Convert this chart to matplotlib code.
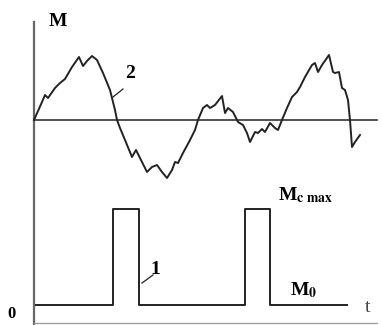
import matplotlib
matplotlib.use("Agg")
import matplotlib.pyplot as plt

plt.rcParams['font.family'] = ['Liberation Serif', 'DejaVu Serif']
plt.rcParams['mathtext.fontset'] = 'stix'

# curve 2: load torque fluctuating around mean level
t_curve = [0, 8, 11, 14, 21, 26, 31, 38, 45, 49, 53, 58, 63, 69, 76, 81, 83, 86,
           91, 98, 102, 106, 113, 118, 123, 128, 133, 138, 141, 144, 149, 156,
           161, 164, 169, 173, 176, 181, 188, 191, 194, 199, 204, 209, 213, 216,
           221, 224, 228, 231, 236, 241, 244, 248, 253, 258, 263, 266, 271, 278,
           281, 284, 288, 295, 299, 301, 305, 308, 311, 314, 316, 318, 321, 326]
m_curve = [203, 221, 228, 225, 235, 240, 244, 256, 266, 257, 262, 267, 263, 250,
           233, 213, 203, 195, 183, 166, 173, 165, 151, 156, 158, 151, 145, 153,
           161, 160, 170, 183, 193, 203, 215, 218, 215, 218, 227, 210, 215, 211,
           201, 198, 190, 181, 191, 190, 194, 191, 200, 195, 193, 203, 215, 226,
           231, 236, 246, 258, 260, 251, 258, 268, 251, 250, 251, 235, 233, 223,
           203, 176, 181, 188]
m_mean = 203

# curve 1: rectangular pulses
pulse_on = [79, 211]
pulse_off = [105, 236]
m_base = 18
m_peak = 114
t_start, t_end = 2, 313

pt = [t_start]
pm = [m_base]
for a, b in zip(pulse_on, pulse_off):
    pt += [a, a, b, b]
    pm += [m_base, m_peak, m_peak, m_base]
pt.append(t_end)
pm.append(m_base)

fig = plt.figure(figsize=(3.81, 3.25), dpi=100)
ax = fig.add_axes([0, 0, 1, 1])
ax.set_xlim(-34, 347)
ax.set_ylim(-2, 323)
ax.axis('off')

# axes
ax.plot([0, 0], [-2, 301], color='#666666', lw=1.6)
ax.plot([0, 343], [0, 0], color='#999999', lw=0.9)
ax.plot([0, 343], [m_mean, m_mean], color='#333333', lw=1.2)

ax.plot(t_curve, m_curve, color='#222222', lw=1.4)
ax.plot(pt, pm, color='#222222', lw=1.4)

# leaders
ax.plot([79, 89], [226, 234], color='#222222', lw=0.9)
ax.plot([108, 119], [40, 48], color='#222222', lw=0.9)

fs = 14
ax.text(15, 302, 'M', fontsize=fs, fontweight='bold', va='center', ha='left')
ax.text(96, 250, '2', fontsize=fs, fontweight='bold', va='center', ha='center')
ax.text(121, 53, '1', fontsize=fs, fontweight='bold', va='center', ha='center')
ax.text(244, 123, r'M$_{\mathbf{c\ max}}$', fontsize=fs, fontweight='bold',
        va='baseline', ha='left')
ax.text(256, 28, r'M$_{\mathbf{0}}$', fontsize=fs, fontweight='bold',
        va='baseline', ha='left')
ax.text(334, 15, 't', fontsize=fs, va='center', ha='center', color='#444444')
ax.text(-22, 1, '0', fontsize=12, fontweight='bold', va='bottom', ha='center')

fig.savefig('out.png', dpi=100)
